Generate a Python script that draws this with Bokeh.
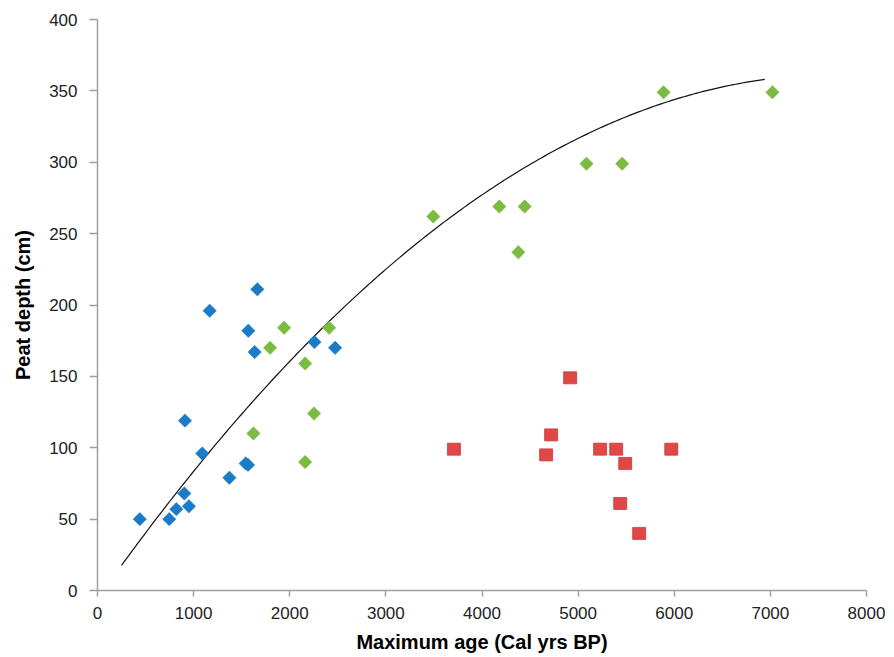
import numpy as np
from bokeh.plotting import figure
from bokeh.models import SingleIntervalTicker, Range1d
from bokeh.embed import file_html
from bokeh.resources import INLINE

# Blue series (age, depth)
blue_age = [440, 746, 820, 951, 903, 910, 1090, 1167, 1372, 1542, 1566, 1569, 1635, 1663, 2257, 2472]
blue_depth = [50, 50, 57, 59, 68, 119, 96, 196, 79, 89, 88, 182, 167, 211, 174, 170]

# Green series
green_age = [1622, 1795, 1941, 2160, 2253, 2160, 2410, 3493, 4180, 4444, 4378, 5087, 5458, 5889, 7021]
green_depth = [110, 170, 184, 159, 124, 90, 184, 262, 269, 269, 237, 299, 299, 349, 349]

# Red series
red_age = [3708, 4917, 4719, 4667, 5229, 5396, 5490, 5969, 5438, 5635]
red_depth = [99, 149, 109, 95, 99, 99, 89, 99, 61, 40]

# Polynomial trend line (2nd order)
trend_coef = [-6.2337e-6, 0.095703, -5.95]
trend_start, trend_end = 250, 6941

p = figure(frame_width=769, frame_height=571,
           min_border_left=97, min_border_right=19, min_border_top=19, min_border_bottom=58,
           x_range=Range1d(0, 8000), y_range=Range1d(0, 400),
           output_backend="svg", toolbar_location=None)

p.outline_line_color = None
p.xgrid.grid_line_color = None
p.ygrid.grid_line_color = None

tx = np.linspace(trend_start, trend_end, 200)
ty = np.polyval(trend_coef, tx)
p.line(tx, ty, line_color="#111111", line_width=1.2)

p.scatter(x=blue_age, y=blue_depth, marker="square", size=9.5, angle=np.pi / 4,
          fill_color="#1b7bc6", line_color="#1b7bc6", line_width=0.5)
p.scatter(x=green_age, y=green_depth, marker="square", size=9.5, angle=np.pi / 4,
          fill_color="#7cbb41", line_color="#7cbb41", line_width=0.5)
p.rect(x=red_age, y=red_depth, width=13, height=12, width_units="screen", height_units="screen",
       fill_color="#e04848", line_color="#cc3a3a", line_width=0.8)

p.xaxis.ticker = SingleIntervalTicker(interval=1000)
p.yaxis.ticker = SingleIntervalTicker(interval=50)
p.xaxis.minor_tick_line_color = None
p.yaxis.minor_tick_line_color = None

for ax in (p.xaxis, p.yaxis):
    ax.axis_line_color = "#a0a0a0"
    ax.axis_line_width = 1.5
    ax.major_tick_line_color = "#a0a0a0"
    ax.major_tick_line_width = 1.5
    ax.major_tick_in = 0
    ax.major_label_text_font = "Liberation Sans"
    ax.major_label_text_font_size = "17px"
    ax.major_label_text_color = "#222222"
    ax.axis_label_text_font = "Liberation Sans"
    ax.axis_label_text_font_size = "20px"
    ax.axis_label_text_font_style = "bold"
    ax.axis_label_text_color = "#000000"

p.xaxis.major_tick_out = 6
p.yaxis.major_tick_out = 8
p.xaxis.major_label_standoff = 10
p.yaxis.major_label_standoff = 12
p.xaxis.axis_label = "Maximum age (Cal yrs BP)"
p.yaxis.axis_label = "Peat depth (cm)"
p.xaxis.axis_label_standoff = 9
p.yaxis.axis_label_standoff = 12

open("out.html", "w").write(file_html(p, INLINE))
